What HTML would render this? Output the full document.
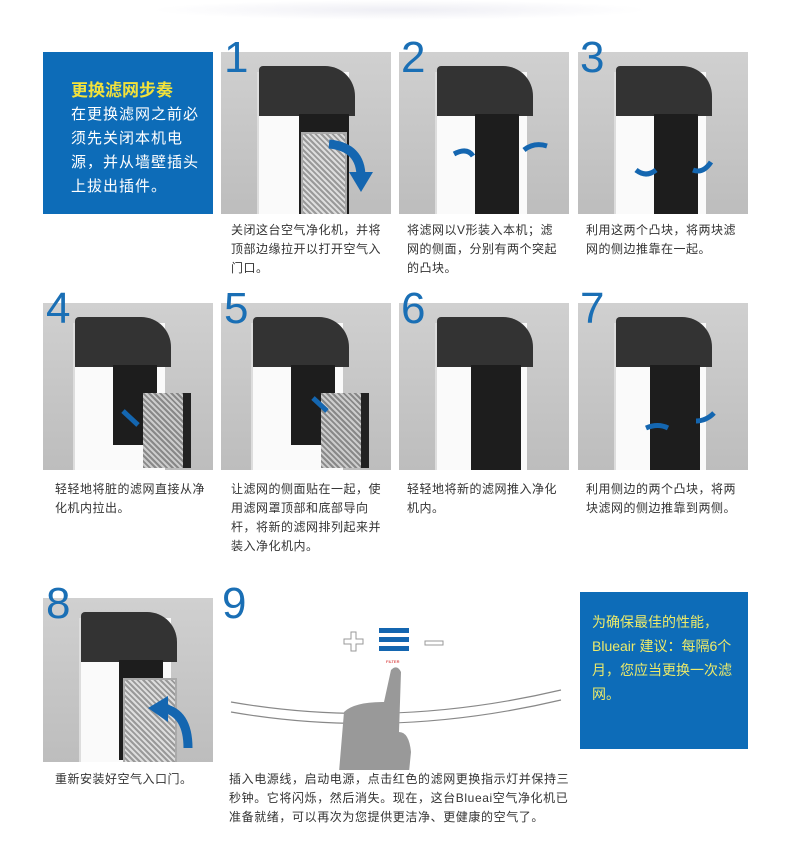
<!DOCTYPE html>
<html><head><meta charset="utf-8"><style>
body{margin:0;width:790px;height:858px;background:#fff;position:relative;overflow:hidden;font-family:"Liberation Sans","Noto Sans CJK SC",sans-serif}
.a{position:absolute}
.p{position:absolute;width:170px;background:linear-gradient(#d0d0d0,#bdbdbd);overflow:hidden}
.n{position:absolute;font-size:44px;color:#1a6fb5;line-height:44px;font-family:"Liberation Sans",sans-serif}
.c{position:absolute;font-size:12px;line-height:19px;color:#333;letter-spacing:0.5px}
.body{position:absolute;background:#fafafa;border-left:2px solid #ddd}
.top{position:absolute;background:#333;border-radius:4px 30px 0 0}
.hole{position:absolute;background:#1d1d1d}
.blue{position:absolute;background:#0d6cb8}
</style></head><body>
<div class="a" style="left:150px;top:0;width:500px;height:20px;background:radial-gradient(ellipse at center,#eeeef4,#fff 70%)"></div>

<div class="blue" style="left:43px;top:52px;width:170px;height:162px"></div>
<div class="a" style="left:71px;top:76px;font-size:17px;font-weight:bold;color:#f3e23a">更换滤网步奏</div>
<div class="a" style="left:71px;top:103px;width:132px;font-size:15px;line-height:24px;color:#fff;letter-spacing:1px">在更换滤网之前必须先关闭本机电源，并从墙壁插头上拔出插件。</div>

<!-- row1 -->
<div class="p" style="left:221px;top:52px;height:162px"><div class="body" style="left:36px;top:20px;width:90px;height:150px"></div><div class="top" style="left:38px;top:14px;width:96px;height:50px"></div><div class="hole" style="left:78px;top:62px;width:50px;height:100px"></div><div class="a" style="left:80px;top:80px;width:42px;height:85px;background:repeating-linear-gradient(45deg,#999 0 2px,#ddd 2px 4px);border:2px solid #aaa"></div>
<svg class="a" style="left:0;top:0" width="170" height="162"><path d="M108 92 Q140 95 140 125" stroke="#1466b0" stroke-width="9" fill="none"/><path d="M128 120 L152 120 L140 140z" fill="#1466b0"/></svg></div>
<div class="p" style="left:399px;top:52px;height:162px"><div class="body" style="left:36px;top:20px;width:90px;height:150px"></div><div class="top" style="left:38px;top:14px;width:96px;height:50px"></div><div class="hole" style="left:76px;top:62px;width:44px;height:100px"></div>
<svg class="a" style="left:0;top:0" width="170" height="162"><path d="M55 102 Q68 95 74 104" stroke="#1466b0" stroke-width="5" fill="none"/><path d="M125 98 Q135 90 148 94" stroke="#1466b0" stroke-width="5" fill="none"/></svg></div>
<div class="p" style="left:578px;top:52px;height:162px"><div class="body" style="left:36px;top:20px;width:90px;height:150px"></div><div class="top" style="left:38px;top:14px;width:96px;height:50px"></div><div class="hole" style="left:76px;top:62px;width:44px;height:100px"></div>
<svg class="a" style="left:0;top:0" width="170" height="162"><path d="M58 118 Q68 126 78 118" stroke="#1466b0" stroke-width="5" fill="none"/><path d="M115 118 Q125 122 133 110" stroke="#1466b0" stroke-width="5" fill="none"/></svg></div>
<div class="n" style="left:224px;top:36px">1</div><div class="n" style="left:401px;top:36px">2</div><div class="n" style="left:580px;top:36px">3</div>
<div class="c" style="left:231px;top:221px;width:152px">关闭这台空气净化机，并将顶部边缘拉开以打开空气入门口。</div>
<div class="c" style="left:407px;top:221px;width:152px">将滤网以V形装入本机；滤网的侧面，分别有两个突起的凸块。</div>
<div class="c" style="left:586px;top:221px;width:152px">利用这两个凸块，将两块滤网的侧边推靠在一起。</div>

<!-- row2 -->
<div class="p" style="left:43px;top:303px;height:167px"><div class="body" style="left:30px;top:20px;width:90px;height:150px"></div><div class="top" style="left:32px;top:14px;width:96px;height:50px"></div><div class="hole" style="left:70px;top:62px;width:44px;height:80px"></div><div class="a" style="left:100px;top:90px;width:40px;height:75px;background:repeating-linear-gradient(45deg,#888 0 2px,#ccc 2px 4px);border-right:8px solid #222"></div>
<svg class="a" style="left:0;top:0" width="170" height="167"><path d="M80 108 L95 122" stroke="#1466b0" stroke-width="5"/></svg></div>
<div class="p" style="left:221px;top:303px;height:167px"><div class="body" style="left:30px;top:20px;width:90px;height:150px"></div><div class="top" style="left:32px;top:14px;width:96px;height:50px"></div><div class="hole" style="left:70px;top:62px;width:44px;height:80px"></div><div class="a" style="left:100px;top:90px;width:40px;height:75px;background:repeating-linear-gradient(45deg,#888 0 2px,#ccc 2px 4px);border-right:8px solid #222"></div>
<svg class="a" style="left:0;top:0" width="170" height="167"><path d="M92 95 L106 108" stroke="#1466b0" stroke-width="5"/></svg></div>
<div class="p" style="left:399px;top:303px;height:167px"><div class="body" style="left:36px;top:20px;width:90px;height:150px"></div><div class="top" style="left:38px;top:14px;width:96px;height:50px"></div><div class="hole" style="left:72px;top:62px;width:50px;height:105px"></div></div>
<div class="p" style="left:578px;top:303px;height:167px"><div class="body" style="left:36px;top:20px;width:90px;height:150px"></div><div class="top" style="left:38px;top:14px;width:96px;height:50px"></div><div class="hole" style="left:72px;top:62px;width:50px;height:105px"></div>
<svg class="a" style="left:0;top:0" width="170" height="167"><path d="M68 125 Q80 120 90 125" stroke="#1466b0" stroke-width="5" fill="none"/><path d="M118 118 Q128 118 136 110" stroke="#1466b0" stroke-width="5" fill="none"/></svg></div>
<div class="n" style="left:46px;top:287px">4</div><div class="n" style="left:224px;top:287px">5</div><div class="n" style="left:401px;top:287px">6</div><div class="n" style="left:580px;top:287px">7</div>
<div class="c" style="left:55px;top:480px;width:160px">轻轻地将脏的滤网直接从净化机内拉出。</div>
<div class="c" style="left:231px;top:480px;width:152px">让滤网的侧面贴在一起，使用滤网罩顶部和底部导向杆，将新的滤网排列起来并装入净化机内。</div>
<div class="c" style="left:407px;top:480px;width:152px">轻轻地将新的滤网推入净化机内。</div>
<div class="c" style="left:586px;top:480px;width:152px">利用侧边的两个凸块，将两块滤网的侧边推靠到两侧。</div>

<!-- row3 -->
<div class="p" style="left:43px;top:598px;height:164px"><div class="body" style="left:36px;top:20px;width:90px;height:150px"></div><div class="top" style="left:38px;top:14px;width:96px;height:50px"></div><div class="hole" style="left:76px;top:62px;width:44px;height:100px"></div><div class="a" style="left:80px;top:80px;width:50px;height:85px;background:repeating-linear-gradient(45deg,#999 0 2px,#ddd 2px 4px);border:2px solid #aaa"></div>
<svg class="a" style="left:0;top:0" width="170" height="164"><path d="M145 150 Q145 115 120 110" stroke="#1466b0" stroke-width="9" fill="none"/><path d="M125 98 L125 124 L105 110z" fill="#1466b0"/></svg></div>
<div class="n" style="left:46px;top:582px">8</div><div class="n" style="left:222px;top:582px">9</div>
<svg class="a" style="left:221px;top:620px" width="350" height="150">
<path d="M10 82 Q170 110 340 70" stroke="#888" fill="none" stroke-width="1.2"/><path d="M10 92 Q170 120 340 80" stroke="#888" fill="none" stroke-width="1.2"/>
<path d="M130 12h5v7h7v5h-7v7h-5v-7h-7v-5h7z" fill="#fff" stroke="#999"/>
<rect x="158" y="8" width="30" height="5" fill="#1466b0"/><rect x="158" y="17" width="30" height="5" fill="#1466b0"/><rect x="158" y="26" width="30" height="5" fill="#1466b0"/>
<rect x="204" y="21" width="18" height="4" fill="#fff" stroke="#999"/>
<text x="165" y="43" font-size="4" fill="#c00">FILTER</text>
<path d="M170 50 q6 -6 10 2 l-2 60 q10 0 12 20 l-2 20 h-70 l5 -60 q10 -10 40 -10z" fill="#999"/>
</svg>
<div class="c" style="left:229px;top:770px;width:345px;letter-spacing:0.6px">插入电源线，启动电源，点击红色的滤网更换指示灯并保持三秒钟。它将闪烁，然后消失。现在，这台Blueai空气净化机已准备就绪，可以再次为您提供更洁净、更健康的空气了。</div>
<div class="c" style="left:55px;top:770px">重新安装好空气入口门。</div>
<div class="blue" style="left:580px;top:592px;width:168px;height:157px"></div>
<div class="a" style="left:592px;top:610px;width:150px;font-size:14px;line-height:24px;color:#ecea6a">为确保最佳的性能，Blueair 建议：每隔6个月，您应当更换一次滤网。</div>
</body></html>
